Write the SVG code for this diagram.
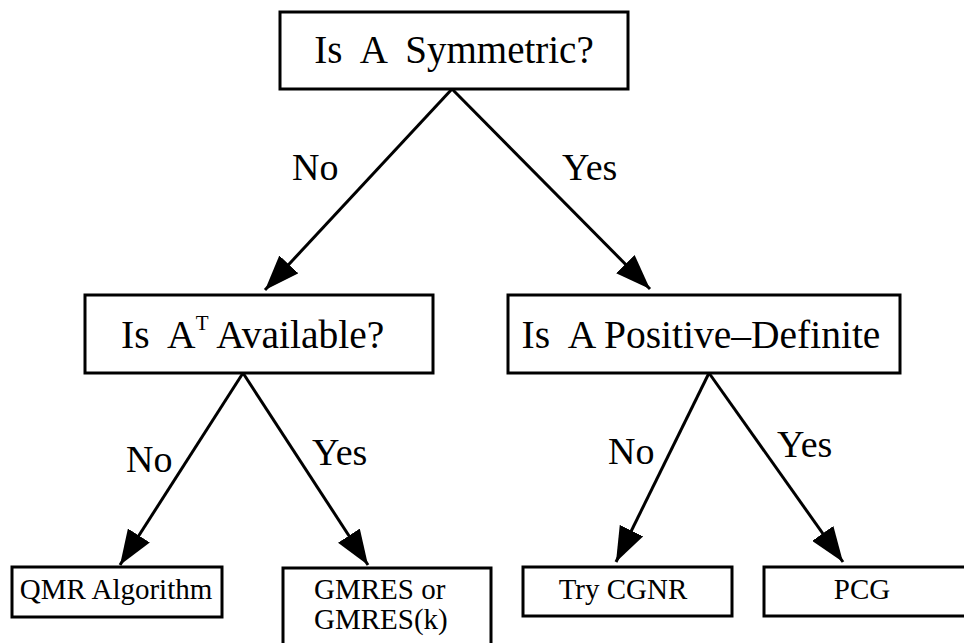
<svg xmlns="http://www.w3.org/2000/svg" width="964" height="643" viewBox="0 0 964 643">
<defs>
<style>
.box{fill:#fff;stroke:#000;stroke-width:3}
.t{font-family:"Liberation Serif","Times New Roman",serif;fill:#000}
.big{font-size:39px}
.mid{font-size:39.5px}
.lbl{font-size:38px}
.sm{font-size:29px}
.edge{stroke:#000;stroke-width:3;fill:none;marker-end:url(#ah)}
</style>
<marker id="ah" markerUnits="userSpaceOnUse" markerWidth="36" markerHeight="26" refX="35" refY="13" orient="auto" viewBox="0 0 36 26">
<path d="M0,0 L35,13 L0,26 z" fill="#000"/>
</marker>
</defs>
<rect width="964" height="643" fill="#fff"/>
<g id="connectors">
<line class="edge" x1="452" y1="89" x2="265" y2="290"/>
<line class="edge" x1="452" y1="89" x2="650" y2="289"/>
<line class="edge" x1="243" y1="373" x2="120" y2="565"/>
<line class="edge" x1="243" y1="373" x2="368" y2="565"/>
<line class="edge" x1="709" y1="373" x2="616" y2="562"/>
<line class="edge" x1="709" y1="373" x2="843" y2="562"/>
<text class="t lbl" x="292" y="180">No</text>
<text class="t lbl" x="562" y="180">Yes</text>
<text class="t lbl" x="126" y="472">No</text>
<text class="t lbl" x="312" y="465">Yes</text>
<text class="t lbl" x="608" y="464">No</text>
<text class="t lbl" x="777" y="457">Yes</text>
</g>
<g id="n_sym">
<rect class="box" x="280" y="12" width="348" height="77"/>
<text class="t big" x="454" y="63" text-anchor="middle" xml:space="preserve">Is  A  Symmetric?</text>
</g>
<g id="n_at">
<rect class="box" x="85" y="295" width="348" height="78"/>
<text class="t mid" x="121" y="348" xml:space="preserve">Is  A<tspan font-size="21" dy="-18">T</tspan><tspan dy="18"> Available?</tspan></text>
</g>
<g id="n_pd">
<rect class="box" x="508" y="295" width="392" height="78"/>
<text class="t mid" x="701" y="348" text-anchor="middle" xml:space="preserve">Is  A Positive–Definite</text>
</g>
<g id="n_qmr">
<rect class="box" x="12" y="567" width="210" height="50"/>
<text class="t sm" x="116" y="599" text-anchor="middle">QMR Algorithm</text>
</g>
<g id="n_gmres">
<rect class="box" x="283" y="568" width="208" height="90"/>
<text class="t sm" x="314" y="599">GMRES or</text>
<text class="t sm" x="314" y="629">GMRES(k)</text>
</g>
<g id="n_cgnr">
<rect class="box" x="523" y="567" width="209" height="49"/>
<text class="t sm" x="623" y="599" text-anchor="middle">Try CGNR</text>
</g>
<g id="n_pcg">
<rect class="box" x="764" y="567" width="220" height="49"/>
<text class="t sm" x="862" y="599" text-anchor="middle">PCG</text>
</g>
</svg>
